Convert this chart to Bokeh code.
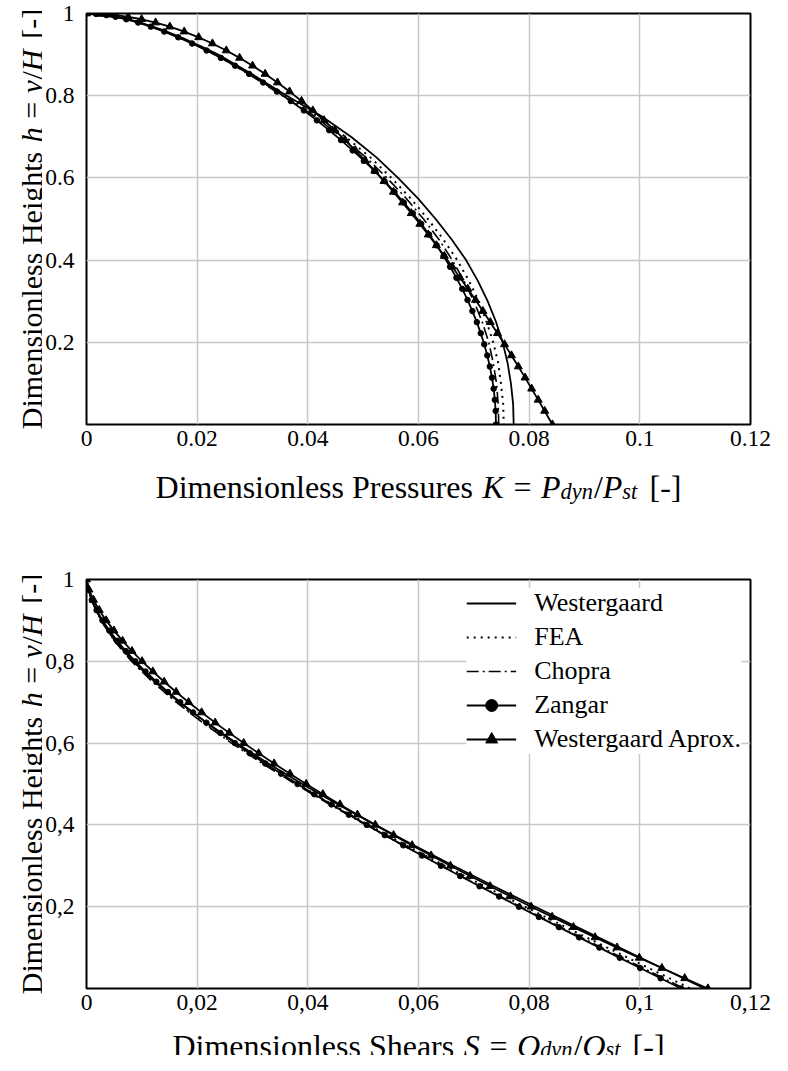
from math import pi
from bokeh.plotting import figure
from bokeh.layouts import column, row
from bokeh.models import Range1d, FixedTicker, Legend, LegendItem
from bokeh.core.properties import value
from bokeh.embed import file_html
from bokeh.resources import INLINE

# ---------------- data: top plot (pressures K vs h) ----------------
h_top = [1.0, 0.99, 0.98, 0.96, 0.94, 0.92, 0.90, 0.85, 0.80, 0.75, 0.70, 0.65, 0.60,
         0.55, 0.50, 0.45, 0.40, 0.35, 0.30, 0.25, 0.20, 0.15, 0.10, 0.05, 0.0]
K_westergaard = [0.0, 0.0063, 0.0092, 0.0137, 0.0174, 0.0207, 0.0238, 0.0302, 0.0362, 0.0425,
                 0.0478, 0.0524, 0.0563, 0.0599, 0.0631, 0.0660, 0.0686, 0.0707, 0.0725, 0.0740,
                 0.0752, 0.0761, 0.0767, 0.0771, 0.0772]
K_fea = [0.0, 0.0062, 0.0090, 0.0135, 0.0171, 0.0204, 0.0235, 0.0299, 0.0358, 0.0418,
         0.0468, 0.0513, 0.0551, 0.0586, 0.0617, 0.0645, 0.0670, 0.0691, 0.0709, 0.0723,
         0.0735, 0.0744, 0.0749, 0.0753, 0.0754]
K_chopra = [0.0, 0.0061, 0.0089, 0.0134, 0.0170, 0.0203, 0.0233, 0.0296, 0.0354, 0.0412,
            0.0460, 0.0505, 0.0543, 0.0578, 0.0609, 0.0637, 0.0661, 0.0682, 0.0700, 0.0715,
            0.0727, 0.0735, 0.0741, 0.0744, 0.0745]

h_top_mk = [1.0, 0.999, 0.996, 0.992, 0.986, 0.978, 0.968, 0.956, 0.942, 0.927, 0.91, 0.892,
            0.873, 0.853, 0.832, 0.81, 0.787, 0.764, 0.74, 0.716, 0.692, 0.667, 0.642, 0.617,
            0.592, 0.566, 0.54, 0.514, 0.488, 0.462, 0.436, 0.41, 0.384, 0.357, 0.33, 0.303,
            0.276, 0.249, 0.222, 0.195, 0.168, 0.141, 0.114, 0.087, 0.06, 0.033, 0.0]
K_zangar = [0.0, 0.00173, 0.0036, 0.00526, 0.0072, 0.00933, 0.01162, 0.01404, 0.01658, 0.01908,
            0.0217, 0.02428, 0.02685, 0.02939, 0.03192, 0.03442, 0.03691, 0.03928, 0.04163,
            0.04386, 0.04599, 0.0481, 0.05012, 0.05203, 0.05385, 0.05565, 0.05735, 0.05896,
            0.06049, 0.06192, 0.06327, 0.06453, 0.06571, 0.06685, 0.0679, 0.06886, 0.06974,
            0.07054, 0.07125, 0.07188, 0.07243, 0.07289, 0.07328, 0.07358, 0.0738, 0.07394, 0.074]
K_aprox = [0.0, 0.00266, 0.00532, 0.00753, 0.00996, 0.01249, 0.01506, 0.01766, 0.02028, 0.02275,
           0.02526, 0.02767, 0.03001, 0.03228, 0.03451, 0.0367, 0.03886, 0.0409, 0.04293,
           0.04487, 0.04673, 0.04859, 0.05038, 0.05211, 0.05378, 0.05547, 0.05711, 0.0587,
           0.06025, 0.06176, 0.06323, 0.06467, 0.06609, 0.06752, 0.06892, 0.0703, 0.07164,
           0.07297, 0.07427, 0.07555, 0.0768, 0.07804, 0.07926, 0.08045, 0.08163, 0.0828, 0.0842]

# ---------------- data: bottom plot (shears S vs h) ----------------
h_bot = [1.0, 0.95, 0.90, 0.85, 0.80, 0.75, 0.70, 0.65, 0.60, 0.55, 0.50, 0.45, 0.40,
         0.35, 0.30, 0.25, 0.20, 0.15, 0.10, 0.05, 0.0]
S_westergaard = [0.0, 0.00091, 0.00269, 0.00519, 0.00842, 0.01232, 0.01676, 0.0217, 0.02709,
                 0.03287, 0.039, 0.04545, 0.05218, 0.05915, 0.06631, 0.07363, 0.08109, 0.08866,
                 0.0963, 0.10399, 0.1117]
S_fea = [0.0, 0.00089, 0.00263, 0.00507, 0.00823, 0.01204, 0.01637, 0.0212, 0.02647, 0.03211,
         0.0381, 0.0444, 0.05098, 0.05779, 0.06478, 0.07194, 0.07922, 0.08662, 0.09409, 0.1016,
         0.10913]
S_chopra = [0.0, 0.00088, 0.0026, 0.00502, 0.00814, 0.01191, 0.01621, 0.02098, 0.0262, 0.03179,
            0.03771, 0.04395, 0.05046, 0.0572, 0.06412, 0.0712, 0.07841, 0.08573, 0.09312,
            0.10056, 0.10801]

h_bot_mk = [1.0, 0.975, 0.95, 0.925, 0.9, 0.875, 0.85, 0.825, 0.8, 0.775, 0.75, 0.725, 0.7,
            0.675, 0.65, 0.625, 0.6, 0.575, 0.55, 0.525, 0.5, 0.475, 0.45, 0.425, 0.4, 0.375,
            0.35, 0.325, 0.3, 0.275, 0.25, 0.225, 0.2, 0.175, 0.15, 0.125, 0.1, 0.075, 0.05,
            0.025, 0.0]
S_zangar = [0.0, 0.000321, 0.000956, 0.001823, 0.002888, 0.004133, 0.005543, 0.007105, 0.008812,
            0.010655, 0.012626, 0.014719, 0.016928, 0.019247, 0.02167, 0.024193, 0.026811,
            0.029519, 0.032314, 0.035189, 0.038141, 0.041167, 0.044261, 0.047421, 0.050641,
            0.053918, 0.057249, 0.060629, 0.064056, 0.067526, 0.071033, 0.074575, 0.078149,
            0.081751, 0.085378, 0.089025, 0.09269, 0.096368, 0.100057, 0.103753, 0.107453]
S_aprox = [0.0, 0.000444, 0.001256, 0.002307, 0.003551, 0.004963, 0.006524, 0.008221, 0.010044,
           0.011986, 0.014038, 0.016195, 0.018453, 0.020807, 0.023253, 0.025789, 0.02841,
           0.031115, 0.0339, 0.036764, 0.039704, 0.042719, 0.045806, 0.048965, 0.052192,
           0.055488, 0.058851, 0.062278, 0.06577, 0.069325, 0.072941, 0.076618, 0.080355,
           0.084151, 0.088005, 0.091916, 0.095883, 0.099906, 0.103984, 0.108115, 0.1123]

x_ticks = [0, 0.02, 0.04, 0.06, 0.08, 0.10, 0.12]
y_ticks = [0.2, 0.4, 0.6, 0.8, 1.0]
x_labels_top = ["0", "0.02", "0.04", "0.06", "0.08", "0.1", "0.12"]
y_labels_top = ["0.2", "0.4", "0.6", "0.8", "1"]
x_labels_bot = ["0", "0,02", "0,04", "0,06", "0,08", "0,1", "0,12"]
y_labels_bot = ["0,2", "0,4", "0,6", "0,8", "1"]
legend_names = ["Westergaard", "FEA", "Chopra", "Zangar", "Westergaard Aprox."]

FONT = "Liberation Serif"
TICK_FS = "23.5px"
XLAB_FS = 32
YLAB_FS = 30
YL_W = 42          # width of the y-label strip (page x 8..50)
LEFT_B = 44        # border left of frame inside each plot figure
FRAME_W = 664
RIGHT_B = 22
PLOT_W = LEFT_B + FRAME_W + RIGHT_B
TOTAL_H = 1055

REG = {' ': 250, 'D': 722, 'i': 278, 'm': 778, 'e': 444, 'n': 500, 's': 389, 'o': 500,
       'l': 278, 'P': 556, 'r': 333, 'u': 500, 'H': 722, 'g': 500, 'h': 500, 't': 278,
       'S': 556, 'a': 444, '=': 564, '/': 278, '[': 333, '-': 333, ']': 333}
ITA = {'K': 667, 'P': 611, 'S': 500, 'Q': 722, 'h': 500, 'y': 444, 'H': 722, 'd': 500,
       'n': 500, 's': 389, 't': 278}


def tw(s, it, fs):
    tab = ITA if it else REG
    return sum(tab[c] for c in s) / 1000.0 * fs


def text_fig(w, h):
    f = figure(width=w, height=h, output_backend="svg", toolbar_location=None, title=None,
               x_range=Range1d(0, w), y_range=Range1d(0, h), min_border=0,
               min_border_left=0, min_border_right=0, min_border_top=0, min_border_bottom=0,
               x_axis_location=None, y_axis_location=None, outline_line_color=None)
    f.frame_align = False
    f.xgrid.visible = False
    f.ygrid.visible = False
    f.background_fill_color = "white"
    f.border_fill_color = "white"
    return f


def math_text(f, pieces, fs, center, base, vertical=False):
    items = []
    pos = 0.0
    for (t, it, sc, sh, gap) in pieces:
        pos += gap * fs
        items.append((pos, t, it, sc * fs, sh * fs))
        pos += tw(t, it, sc * fs)
    start = center - pos / 2.0
    for (off, t, it, size, sh) in items:
        if vertical:
            x, y, ang = base - sh, start + off, pi / 2
        else:
            x, y, ang = start + off, base + sh, 0.0
        f.text(x=[x], y=[y], text=[t], angle=ang,
               text_font=value(FONT), text_font_size=value(f"{size:.1f}px"),
               text_font_style=value("italic" if it else "normal"),
               text_color="black", text_align="left", text_baseline="alphabetic")


def make_fig(height, top, bottom, xl, yl):
    p = figure(width=PLOT_W, height=height, output_backend="svg",
               toolbar_location=None, title=None,
               x_range=Range1d(0, 0.12), y_range=Range1d(0, 1),
               min_border_left=LEFT_B, min_border_right=RIGHT_B,
               min_border_top=top, min_border_bottom=bottom)
    p.frame_align = False
    p.outline_line_color = "black"
    p.outline_line_width = 2
    p.background_fill_color = "white"
    p.border_fill_color = "white"
    for ax, ticks, labels, standoff in ((p.xaxis[0], x_ticks, xl, 6),
                                        (p.yaxis[0], y_ticks, yl, 12)):
        ax.ticker = FixedTicker(ticks=ticks, minor_ticks=[])
        ax.major_label_overrides = {t: l for t, l in zip(ticks, labels)}
        ax.axis_line_color = None
        ax.major_tick_line_color = None
        ax.minor_tick_line_color = None
        ax.major_tick_out = 0
        ax.major_tick_in = 0
        ax.major_label_standoff = standoff
        ax.major_label_text_font = FONT
        ax.major_label_text_font_size = TICK_FS
        ax.major_label_text_color = "black"
    p.xgrid.ticker = FixedTicker(ticks=x_ticks)
    p.ygrid.ticker = FixedTicker(ticks=y_ticks)
    for g in (p.xgrid[0], p.ygrid[0]):
        g.grid_line_color = "#c8c8c8"
        g.grid_line_width = 1.5
    return p


def draw(p, hl, w, fea, ch, hm, z, ap):
    rs = {}
    rs["w"] = [p.line(w, hl, line_color="black", line_width=1.8)]
    rs["f"] = [p.line(fea, hl, line_color="black", line_width=2, line_dash="2 5")]
    rs["c"] = [p.line(ch, hl, line_color="black", line_width=1.6, line_dash="12 4 2 4")]
    rs["z"] = [p.line(z, hm, line_color="black", line_width=1.8),
               p.scatter(z, hm, marker="circle", size=5.5, fill_color="black", line_color="black")]
    rs["a"] = [p.line(ap, hm, line_color="black", line_width=1.8),
               p.scatter(ap, hm, marker="triangle", size=8, fill_color="black", line_color="black")]
    return rs


yl_pieces = [("Dimensionless Heights", False, 1, 0, 0), ("h", True, 1, 0, 0.32),
             ("=", False, 1, 0, 0.28), ("y", True, 1, 0, 0.28), ("/", False, 1, 0, 0.02),
             ("H", True, 1, 0, 0.0), ("[-]", False, 1, 0, 0.36)]
xl_top = [("Dimensionless Pressures", False, 1, 0, 0), ("K", True, 1, 0, 0.30),
          ("=", False, 1, 0, 0.30), ("P", True, 1, 0, 0.30), ("dyn", True, 0.7, -0.16, 0.0),
          ("/", False, 1, 0, 0.03), ("P", True, 1, 0, 0.0), ("st", True, 0.7, -0.16, 0.0),
          ("[-]", False, 1, 0, 0.38)]
xl_bot = [("Dimensionless Shears", False, 1, 0, 0), ("S", True, 1, 0, 0.30),
          ("=", False, 1, 0, 0.30), ("Q", True, 1, 0, 0.30), ("dyn", True, 0.7, -0.12, 0.0),
          ("/", False, 1, 0, 0.03), ("Q", True, 1, 0, 0.0), ("st", True, 0.7, -0.12, 0.0),
          ("[-]", False, 1, 0, 0.38)]

X_CENTER = LEFT_B + FRAME_W / 2
PAGE_TOP = 8

# page-space frame geometry (from the reference)
F1_TOP, F1_BOT = 21, 432
F2_TOP, F2_BOT = 587, 996

# ---------------- plots and x-label strips ----------------
T1 = F1_TOP - PAGE_TOP
B1 = 32
H1 = T1 + (F1_BOT - F1_TOP) + B1
T2 = 10
B2 = 32
H2 = T2 + (F2_BOT - F2_TOP) + B2
XL1_H = (F2_TOP - T2) - (PAGE_TOP + H1)          # gap between plots
XL2_H = TOTAL_H - H1 - XL1_H - H2

p1 = make_fig(H1, T1, B1, x_labels_top, y_labels_top)
draw(p1, h_top, K_westergaard, K_fea, K_chopra, h_top_mk, K_zangar, K_aprox)

xl1 = text_fig(PLOT_W, XL1_H)
xl1_top = PAGE_TOP + H1
math_text(xl1, xl_top, XLAB_FS, X_CENTER, (xl1_top + XL1_H) - 494)

p2 = make_fig(H2, T2, B2, x_labels_bot, y_labels_bot)
rs = draw(p2, h_bot, S_westergaard, S_fea, S_chopra, h_bot_mk, S_zangar, S_aprox)

xl2 = text_fig(PLOT_W, XL2_H)
math_text(xl2, xl_bot, XLAB_FS, X_CENTER, (PAGE_TOP + TOTAL_H) - 1053)

# ---------------- one tall strip for both y labels ----------------
yl = text_fig(YL_W, TOTAL_H)
page_bottom = PAGE_TOP + TOTAL_H
math_text(yl, yl_pieces, YLAB_FS, page_bottom - (F1_TOP + F1_BOT) / 2, 31, vertical=True)
math_text(yl, yl_pieces, YLAB_FS, page_bottom - (F2_TOP + F2_BOT) / 2, 31, vertical=True)

items = [LegendItem(label=n, renderers=rs[k]) for n, k in zip(legend_names, ["w", "f", "c", "z", "a"])]
leg = Legend(items=items, location="top_right", margin=9, padding=8,
             glyph_width=50, glyph_height=30, label_height=30, spacing=4,
             label_standoff=18, label_text_font=FONT, label_text_font_size="26px",
             label_text_color="black", background_fill_color="white",
             background_fill_alpha=1.0, border_line_color=None)
p2.add_layout(leg)

layout = row(yl, column(p1, xl1, p2, xl2))
open("out.html", "w").write(file_html(layout, INLINE))
